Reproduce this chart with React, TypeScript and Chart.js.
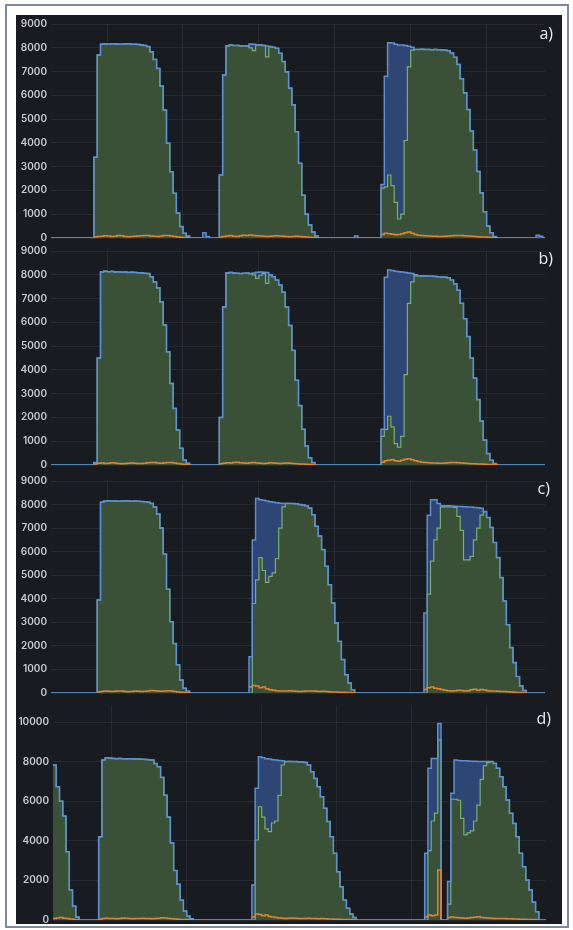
import React, { useEffect, useRef } from "react";
import { Chart, registerables } from "chart.js";

Chart.register(...registerables);

type Block = [number, number[]];

// ---------- Panel a ----------
const A1 = [3400, 7700, 8150, 8160, 8150, 8170, 8160, 8150, 8150, 8160, 8170, 8150, 8150, 8140, 8120, 8100, 8050, 7830, 7510, 7130, 6390, 5380, 3980, 2790, 1880, 1050, 480, 200, 80];
const A_BLIPS = [220, 60];
const A_BLIP2 = [80];
const A_BLIP3 = [120, 70];
const A2_BLUE = [2650, 6850, 8080, 8120, 8100, 8100, 8080, 8090, 8070, 8160, 8150, 8120, 8120, 8100, 8080, 8050, 8020, 7980, 7770, 7420, 6990, 6300, 5600, 4470, 3140, 1800, 1000, 550, 250, 80];
const A2_GREEN = [2650, 6850, 8080, 8120, 8100, 8100, 8080, 8090, 8070, 8000, 7880, 8100, 8120, 8100, 7620, 8050, 8020, 7980, 7770, 7420, 6990, 6300, 5600, 4470, 3140, 1800, 1000, 550, 250, 80];
const A3_BLUE_HEAD = [2250, 6800, 8210, 8200, 8150, 8120, 8120, 8100, 8060, 8020];
const A3_GREEN_HEAD = [2100, 2150, 2650, 2200, 1500, 800, 1000, 4100, 7200, 7900];
const A3_TAIL = [7930, 7930, 7940, 7930, 7930, 7920, 7930, 7920, 7910, 7900, 7880, 7780, 7600, 7300, 6700, 6100, 5400, 4500, 3700, 2800, 1900, 1100, 500, 220, 60];
const A_OR1 = [40, 60, 70, 90, 80, 60, 70, 110, 90, 60, 50, 60, 70, 80, 90, 110, 100, 80, 70, 60, 80, 110, 100, 80, 60, 40, 30, 20, 10];
const A_OR2 = [40, 60, 80, 100, 70, 60, 90, 120, 110, 130, 100, 90, 80, 70, 60, 70, 80, 90, 80, 70, 60, 50, 60, 70, 60, 50, 40, 30, 20, 10];
const A_OR3 = [150, 200, 180, 160, 140, 150, 180, 220, 250, 200, 150, 120, 100, 90, 80, 70, 70, 60, 60, 70, 80, 90, 100, 110, 100, 90, 80, 70, 60, 50, 40, 40, 30, 20, 10];

// ---------- Panel b ----------
const B1 = [100, 4500, 8120, 8150, 8130, 8140, 8120, 8130, 8110, 8120, 8100, 8110, 8100, 8090, 8080, 8060, 8050, 7920, 7700, 7450, 6870, 5890, 4760, 3430, 2380, 1470, 700, 210, 70];
const B2_BLUE = [2000, 6650, 8080, 8100, 8070, 8060, 8050, 8060, 8070, 8050, 8080, 8110, 8120, 8110, 8100, 8000, 7920, 7780, 7570, 7270, 6640, 5870, 4820, 3560, 2500, 1500, 800, 300, 100];
const B2_GREEN = [2000, 6650, 8080, 8100, 8070, 8060, 8050, 8060, 8070, 8050, 8000, 7850, 7980, 8050, 7640, 8000, 7920, 7780, 7570, 7270, 6640, 5870, 4820, 3560, 2500, 1500, 800, 300, 100];
const B3_BLUE_HEAD = [1500, 7900, 8200, 8180, 8150, 8130, 8120, 8100, 8080, 8050, 8000];
const B3_GREEN_HEAD = [1200, 1500, 2050, 1600, 900, 750, 1200, 3800, 6800, 7700, 7950];
const B3_TAIL = [7960, 7950, 7950, 7940, 7940, 7930, 7920, 7910, 7900, 7870, 7780, 7620, 7350, 6800, 6150, 5400, 4500, 3650, 2750, 1850, 1050, 480, 200, 60];
const B_OR1 = [40, 70, 80, 60, 70, 90, 80, 60, 50, 60, 70, 80, 70, 60, 60, 70, 90, 110, 100, 80, 70, 90, 110, 100, 80, 60, 40, 20, 10];
const B_OR2 = [50, 70, 90, 80, 100, 120, 90, 80, 70, 90, 100, 80, 70, 60, 70, 90, 80, 70, 60, 70, 80, 70, 60, 50, 40, 40, 30, 20, 10];
const B_OR3 = [120, 180, 200, 220, 180, 160, 200, 240, 260, 220, 180, 150, 120, 100, 90, 80, 80, 70, 70, 80, 90, 110, 100, 90, 80, 70, 60, 50, 50, 40, 40, 30, 20, 20, 10];

// ---------- Panel c ----------
const C1 = [3950, 8100, 8150, 8160, 8150, 8150, 8140, 8150, 8160, 8150, 8140, 8150, 8140, 8130, 8120, 8100, 8050, 7900, 7600, 7000, 5900, 4400, 3030, 2100, 1200, 550, 200, 70];
const C2_BLUE_HEAD = [1540, 6500, 8260, 8200, 8180, 8150, 8120, 8100, 8080, 8060, 8050];
const C2_GREEN_HEAD = [0, 3800, 4800, 5750, 5200, 4700, 4950, 5100, 5700, 7000, 7900];
const C2_TAIL = [8050, 8050, 8040, 8030, 8000, 7980, 7950, 7850, 7570, 7080, 6660, 6090, 5380, 4600, 3820, 2970, 2190, 1420, 780, 420, 140];
const C3_BLUE_HEAD = [3400, 7550, 8200, 8200, 8050, 7950, 7950, 7950, 7940, 7930, 7920, 7920, 7910, 7900, 7900, 7880, 7860, 7840];
const C3_GREEN_HEAD = [0, 4200, 5600, 6500, 7000, 7900, 7900, 7900, 7900, 7880, 7500, 6900, 5650, 5650, 5800, 6500, 7000, 7550];
const C3_TAIL = [7700, 7450, 7030, 6390, 5750, 4900, 3910, 2900, 1930, 1290, 700, 300, 110];
const C_OR1 = [40, 60, 80, 70, 60, 70, 90, 80, 60, 50, 60, 80, 70, 60, 70, 90, 110, 100, 80, 70, 90, 100, 80, 60, 40, 30, 20, 10];
const C_OR2 = [250, 320, 300, 220, 260, 180, 140, 120, 100, 90, 80, 90, 100, 80, 70, 60, 70, 80, 90, 80, 70, 60, 70, 60, 50, 40, 40, 30, 30, 20, 20, 10];
const C_OR3 = [150, 220, 260, 200, 180, 150, 120, 100, 90, 100, 120, 110, 90, 100, 140, 160, 120, 150, 130, 100, 90, 80, 70, 60, 60, 50, 40, 30, 20, 20, 10];

// ---------- Panel d ----------
const D0 = [7830, 6730, 6000, 5250, 3450, 1520, 700, 150];
const D1 = [4200, 8080, 8200, 8180, 8160, 8150, 8160, 8150, 8140, 8150, 8140, 8130, 8130, 8120, 8110, 8100, 8080, 7900, 7740, 7200, 6300, 5200, 3900, 2500, 1800, 1000, 450, 200, 60];
const D2_BLUE_HEAD = [1770, 6650, 8250, 8200, 8150, 8130, 8100, 8080, 8060, 8050];
const D2_GREEN_HEAD = [0, 4040, 5720, 5200, 4600, 4460, 4900, 5000, 6300, 7830];
const D2_TAIL = [8000, 8010, 8000, 8000, 7990, 7980, 7960, 7830, 7490, 7150, 6730, 6230, 5640, 4970, 4210, 3370, 2440, 1680, 1010, 590, 300, 130];
const D3A_BLUE = [3370, 7660, 8160, 8160, 9930];
const D3A_GREEN = [0, 3500, 5000, 5400, 9100];
const D3B_BLUE_HEAD = [1940, 6400, 8080, 8060, 8050, 8040, 8030, 8020, 8020, 8010, 8000, 8000, 8000];
const D3B_GREEN_HEAD = [800, 6100, 6100, 6050, 5130, 4300, 4400, 4500, 5000, 5800, 7100, 7800, 7950];
const D3B_TAIL = [8000, 7910, 7660, 7240, 6730, 6060, 5390, 4880, 4210, 3370, 2690, 2020, 1520, 900, 420];
const D_OR0 = [80, 100, 120, 90, 70, 50, 30, 10];
const D_OR1 = [40, 70, 90, 80, 70, 60, 80, 100, 90, 70, 60, 70, 80, 90, 80, 70, 60, 70, 90, 110, 100, 80, 60, 50, 40, 30, 20, 20, 10];
const D_OR2 = [150, 300, 280, 220, 250, 180, 150, 120, 100, 90, 80, 90, 100, 90, 80, 70, 80, 90, 80, 70, 60, 70, 60, 50, 50, 40, 40, 30, 30, 20, 20, 10];
const D_OR3A = [150, 250, 220, 250, 2530];
const D_OR3B = [120, 150, 130, 110, 100, 90, 100, 120, 140, 160, 130, 110, 100, 90, 80, 80, 70, 70, 60, 60, 50, 50, 40, 40, 30, 20, 20, 10];

// ---------- Axis ticks ----------
const GRID_X = [17, 40, 63, 86, 109, 132];
const Y_TICKS_9K = [0, 1000, 2000, 3000, 4000, 5000, 6000, 7000, 8000, 9000];
const Y_TICKS_10K = [0, 2000, 4000, 6000, 8000, 10000];

const BLUE_LINE = "#5b8fd6";
const BLUE_FILL = "#2f4573";
const GREEN_LINE = "#77b26a";
const GREEN_FILL = "#3a5138";
const ORANGE = "#e5822c";
const GRID = "rgba(210,215,230,0.08)";
const TICK = "#c9cad1";

type PanelCfg = {
  blue: Block[];
  green: Block[];
  orange: Block[];
  yMax: number;
  yTicks: number[];
  xMin: number;
  xMax: number;
  axisW: number;
  padR: number;
  top: number;
  height: number;
  label: string;
  labelTop: number;
  labelRight: number;
};

const PANELS: PanelCfg[] = [
  {
    blue: [[13, A1], [46, A_BLIPS], [51, A2_BLUE], [92, A_BLIP2], [100, A3_BLUE_HEAD], [110, A3_TAIL], [147, A_BLIP3]],
    green: [[13, A1], [51, A2_GREEN], [100, A3_GREEN_HEAD], [110, A3_TAIL]],
    orange: [[13, A_OR1], [51, A_OR2], [100, A_OR3]],
    yMax: 9000, yTicks: Y_TICKS_9K, xMin: 0, xMax: 149.7, axisW: 35, padR: 17,
    top: 14, height: 234, label: "a)", labelTop: 23, labelRight: 20,
  },
  {
    blue: [[13, B1], [51, B2_BLUE], [100, B3_BLUE_HEAD], [111, B3_TAIL]],
    green: [[13, B1], [51, B2_GREEN], [100, B3_GREEN_HEAD], [111, B3_TAIL]],
    orange: [[13, B_OR1], [51, B_OR2], [100, B_OR3]],
    yMax: 9000, yTicks: Y_TICKS_9K, xMin: 0, xMax: 149.7, axisW: 35, padR: 17,
    top: 241, height: 234, label: "b)", labelTop: 248, labelRight: 20,
  },
  {
    blue: [[14, C1], [60, C2_BLUE_HEAD], [71, C2_TAIL], [113, C3_BLUE_HEAD], [131, C3_TAIL]],
    green: [[14, C1], [60, C2_GREEN_HEAD], [71, C2_TAIL], [113, C3_GREEN_HEAD], [131, C3_TAIL]],
    orange: [[14, C_OR1], [60, C_OR2], [113, C_OR3]],
    yMax: 9000, yTicks: Y_TICKS_9K, xMin: 0, xMax: 149.7, axisW: 35, padR: 17,
    top: 471, height: 232, label: "c)", labelTop: 478, labelRight: 23,
  },
  {
    blue: [[-1, D0], [13, D1], [60, D2_BLUE_HEAD], [70, D2_TAIL], [113, D3A_BLUE], [120, D3B_BLUE_HEAD], [133, D3B_TAIL]],
    green: [[-1, D0], [13, D1], [60, D2_GREEN_HEAD], [70, D2_TAIL], [113, D3A_GREEN], [120, D3B_GREEN_HEAD], [133, D3B_TAIL]],
    orange: [[-1, D_OR0], [13, D_OR1], [60, D_OR2], [113, D_OR3A], [120, D_OR3B]],
    yMax: 10860, yTicks: Y_TICKS_10K, xMin: -1, xMax: 150.2, axisW: 37, padR: 16,
    top: 695, height: 235, label: "d)", labelTop: 708, labelRight: 22,
  },
];

function build(blocks: Block[], from: number, to: number, zeroFill: boolean) {
  const map = new Map<number, number>();
  for (const [start, vals] of blocks) vals.forEach((v, i) => map.set(start + i, v));
  const pts: { x: number; y: number | null }[] = [];
  for (let x = from; x <= to; x++) {
    if (map.has(x)) pts.push({ x, y: map.get(x) as number });
    else if (zeroFill) pts.push({ x, y: 0 });
    else if (map.has(x - 1)) pts.push({ x, y: 0 });
    else pts.push({ x, y: null });
  }
  return pts;
}

function Panel({ cfg }: { cfg: PanelCfg }) {
  const ref = useRef<HTMLCanvasElement>(null);
  useEffect(() => {
    if (!ref.current) return;
    const end = 152;
    const chart = new Chart(ref.current, {
      type: "line",
      data: {
        datasets: [
          {
            data: build(cfg.orange, cfg.xMin, end, false) as any,
            borderColor: ORANGE,
            borderWidth: 1.5,
            fill: false,
            spanGaps: false,
            order: 0,
          },
          {
            data: build(cfg.blue, cfg.xMin, end, true) as any,
            borderColor: BLUE_LINE,
            borderWidth: 1.5,
            fill: false,
            order: 1,
          },
          {
            data: build(cfg.green, cfg.xMin, end, true) as any,
            borderColor: GREEN_LINE,
            backgroundColor: GREEN_FILL,
            borderWidth: 1.2,
            fill: "origin",
            order: 2,
          },
          {
            data: build(cfg.blue, cfg.xMin, end, true) as any,
            borderColor: "rgba(0,0,0,0)",
            backgroundColor: BLUE_FILL,
            borderWidth: 0,
            fill: "origin",
            order: 3,
          },
        ],
      },
      options: {
        animation: false,
        responsive: false,
        devicePixelRatio: 1,
        parsing: false,
        events: [],
        elements: {
          point: { radius: 0, hoverRadius: 0 },
          line: { stepped: true, tension: 0 },
        },
        plugins: { legend: { display: false }, tooltip: { enabled: false } },
        layout: { padding: { top: 10, bottom: 10, left: 0, right: cfg.padR } },
        scales: {
          x: {
            type: "linear",
            min: cfg.xMin,
            max: cfg.xMax,
            grid: { color: GRID, drawTicks: false, lineWidth: 1 },
            border: { display: false },
            ticks: { display: false },
            afterBuildTicks: (s: any) => {
              s.ticks = GRID_X.map((v) => ({ value: v }));
            },
            afterFit: (s: any) => {
              s.height = 0;
            },
          },
          y: {
            type: "linear",
            min: 0,
            max: cfg.yMax,
            grid: { color: GRID, drawTicks: false, lineWidth: 1 },
            border: { display: false },
            ticks: {
              padding: 4,
              color: TICK,
              autoSkip: false,
              font: { family: "Inter, 'DejaVu Sans', sans-serif", size: 10, weight: "600" as any },
              callback: (v: any) => String(v),
            },
            afterBuildTicks: (s: any) => {
              s.ticks = cfg.yTicks.map((v) => ({ value: v }));
            },
            afterFit: (s: any) => {
              s.width = cfg.axisW;
            },
          },
        },
      } as any,
    });
    return () => chart.destroy();
  }, [cfg]);

  return (
    <>
      <canvas
        ref={ref}
        width={546}
        height={cfg.height}
        style={{ position: "absolute", left: 16, top: cfg.top, width: 546, height: cfg.height }}
      />
      <div
        style={{
          position: "absolute",
          right: cfg.labelRight,
          top: cfg.labelTop,
          color: "#ececec",
          fontFamily: "'Open Sans', 'Noto Sans', sans-serif",
          fontSize: 16,
          lineHeight: "20px",
        }}
      >
        {cfg.label}
      </div>
    </>
  );
}

export default function App() {
  return (
    <div
      style={{
        position: "absolute",
        left: 0,
        top: 0,
        width: 573,
        height: 930,
        background: "#ffffff",
        overflow: "hidden",
      }}
    >
      <div
        style={{
          position: "absolute",
          left: 5,
          top: 4,
          width: 564,
          height: 924,
          border: "2px solid #7f8aa0",
          boxSizing: "border-box",
        }}
      />
      <div
        style={{
          position: "absolute",
          left: 16,
          top: 15,
          width: 546,
          height: 909,
          background: "#181b20",
        }}
      />
      {PANELS.map((p) => (
        <Panel key={p.label} cfg={p} />
      ))}
    </div>
  );
}
